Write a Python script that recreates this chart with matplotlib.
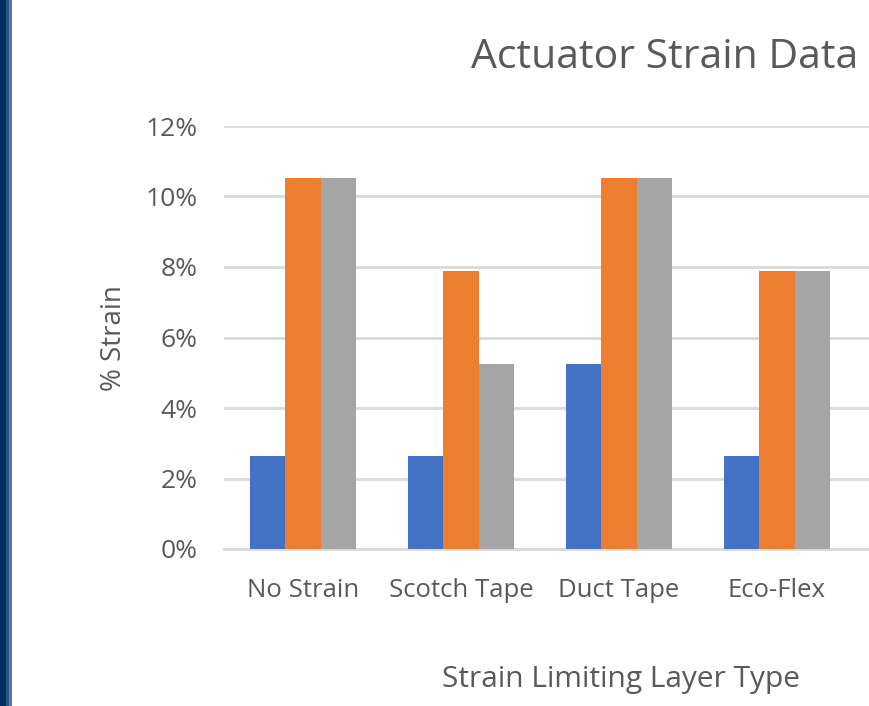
import matplotlib
matplotlib.use('Agg')
import matplotlib.pyplot as plt
from matplotlib.patches import Rectangle
import numpy as np

# data (fractions, shown as %)
categories = ['No Strain', 'Scotch Tape', 'Duct Tape', 'Eco-Flex']
series_1 = [0.0263, 0.0263, 0.0526, 0.0263]   # blue
series_2 = [0.1053, 0.0789, 0.1053, 0.0789]   # orange
series_3 = [0.1053, 0.0526, 0.1053, 0.0789]   # gray
y_ticks = [0, 0.02, 0.04, 0.06, 0.08, 0.10, 0.12]

colors = ['#4472C4', '#ED7D31', '#A5A5A5']
text_gray = '#595959'
grid_gray = '#D9D9D9'

plt.rcParams['font.family'] = ['Open Sans', 'DejaVu Sans']

W, H = 870, 706
fig = plt.figure(figsize=(W / 100, H / 100), dpi=100)
fig.patch.set_facecolor('white')

# dark blue strip at the left edge
for x0, w, c in [(0, 6, '#00305E'), (6, 3, '#2D5283'), (9, 3, '#5A7AA5')]:
    fig.add_artist(Rectangle((x0 / W, 0), w / W, 1, transform=fig.transFigure,
                             facecolor=c, edgecolor='none'))

left, right = 224 / W, 1.0
bottom, top = 1 - 549 / H, 1 - 126 / H
ax = fig.add_axes([left, bottom, right - left, top - bottom])

x = np.arange(len(categories))
bw = 0.222
for i, vals in enumerate([series_1, series_2, series_3]):
    ax.bar(x + (i - 1) * bw, vals, width=bw, color=colors[i], zorder=3)

ax.set_ylim(0, 0.12)
ax.set_xlim(-0.5, -0.5 + (W - 224) / 158)
ax.set_yticks(y_ticks)
ax.set_yticklabels([f'{int(round(t * 100))}%' for t in y_ticks])
ax.set_xticks(x)
ax.set_xticklabels(categories)
ax.tick_params(axis='y', length=0, colors=text_gray, labelsize=19, pad=19)
ax.tick_params(axis='x', length=0, colors=text_gray, labelsize=18.5, pad=21)

ax.grid(axis='y', color=grid_gray, linewidth=2, zorder=0)
for s in ['top', 'right', 'left']:
    ax.spines[s].set_visible(False)
ax.spines['bottom'].set_color(grid_gray)
ax.spines['bottom'].set_linewidth(2)

fig.text(858 / W, 1 - 58 / H, 'Actuator Strain Data', ha='right', va='center',
         fontsize=29.5, color=text_gray)
fig.text(114 / W, 1 - 338 / H, '% Strain', ha='center', va='center',
         rotation=90, fontsize=20, color=text_gray)
fig.text(621 / W, 1 - 679 / H, 'Strain Limiting Layer Type', ha='center',
         va='center', fontsize=21.5, color=text_gray)

plt.savefig('out.png', dpi=100, facecolor='white')
plt.close(fig)
